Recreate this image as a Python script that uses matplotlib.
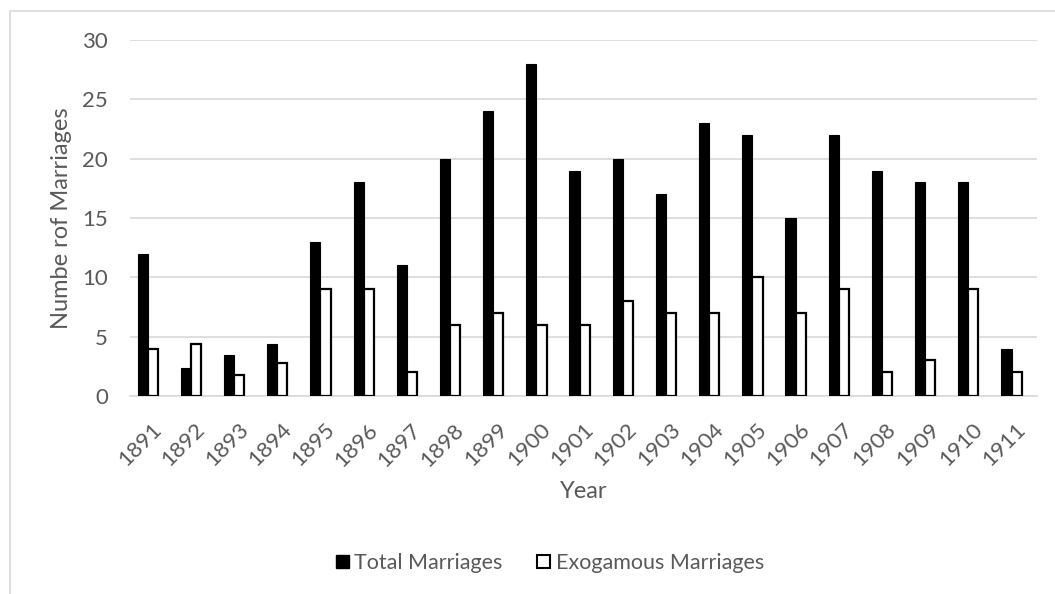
import matplotlib
matplotlib.use("Agg")
import matplotlib.pyplot as plt
import numpy as np
from matplotlib.patches import Rectangle, Patch

years = ["1891", "1892", "1893", "1894", "1895", "1896", "1897", "1898", "1899", "1900",
         "1901", "1902", "1903", "1904", "1905", "1906", "1907", "1908", "1909", "1910", "1911"]
total_marriages = [12, 2.4, 3.45, 4.4, 13, 18, 11, 20, 24, 28,
                   19, 20, 17, 23, 22, 15, 22, 19, 18, 18, 4]
exogamous_marriages = [4, 4.4, 1.8, 2.8, 9, 9, 2, 6, 7, 6,
                       6, 8, 7, 7, 10, 7, 9, 2, 3, 9, 2]
y_ticks = [0, 5, 10, 15, 20, 25, 30]

plt.rcParams['font.family'] = ['Lato', 'DejaVu Sans']
text_color = '#595959'
grid_color = '#d9d9d9'

W, H = 1055, 594
fig = plt.figure(figsize=(W / 100, H / 100), dpi=100)

# chart border (clipped on right/bottom as in reference)
fig.add_artist(Rectangle((10 / W, -0.1), 1.2, (H - 11) / H + 0.1, transform=fig.transFigure,
                         fill=False, edgecolor=grid_color, linewidth=1.2))

left, right, top, bottom = 130, 1037, 40, 396
ax = fig.add_axes([left / W, (H - bottom) / H, (right - left) / W, (bottom - top) / H])

x = np.arange(len(years))
bw = 0.235
ax.bar(x - bw / 2 - 0.09, total_marriages, width=bw, color='black', edgecolor='black',
       linewidth=0.8, label='Total Marriages', zorder=3)
ax.bar(x + bw / 2 - 0.09, exogamous_marriages, width=bw, color='white', edgecolor='black',
       linewidth=1.6, label='Exogamous Marriages', zorder=3)

ax.set_xlim(-0.5, len(years) - 0.5)
ax.set_ylim(0, 30)
ax.set_yticks(y_ticks)
ax.set_yticklabels([str(v) for v in y_ticks], fontsize=16, color=text_color)
ax.set_xticks(x)
ax.set_xticklabels(years, rotation=45, ha='right', va='top', rotation_mode='anchor',
                   fontsize=16, color=text_color)
ax.tick_params(axis='both', length=0)
ax.tick_params(axis='y', pad=16)
ax.tick_params(axis='x', pad=17)
ax.grid(axis='y', color=grid_color, linewidth=1.2, zorder=0)
for s in ['top', 'right', 'left']:
    ax.spines[s].set_visible(False)
ax.spines['bottom'].set_color(grid_color)
ax.spines['bottom'].set_linewidth(1.2)

ax.set_xlabel('Year', fontsize=17, color=text_color, labelpad=8)
ax.set_ylabel('Numbe rof Marriages', fontsize=17, color=text_color, labelpad=7)

handles = [Patch(facecolor='black', edgecolor='black', label='Total Marriages'),
           Patch(facecolor='white', edgecolor='black', linewidth=1.5, label='Exogamous Marriages')]
fig.legend(handles=handles, loc='center', bbox_to_anchor=(550 / W, 1 - 563 / H), ncol=2,
           frameon=False, fontsize=15.5, labelcolor=text_color, handlelength=0.6,
           handleheight=0.6, handletextpad=0.25, columnspacing=1.6)

fig.savefig('out.png', dpi=100)
